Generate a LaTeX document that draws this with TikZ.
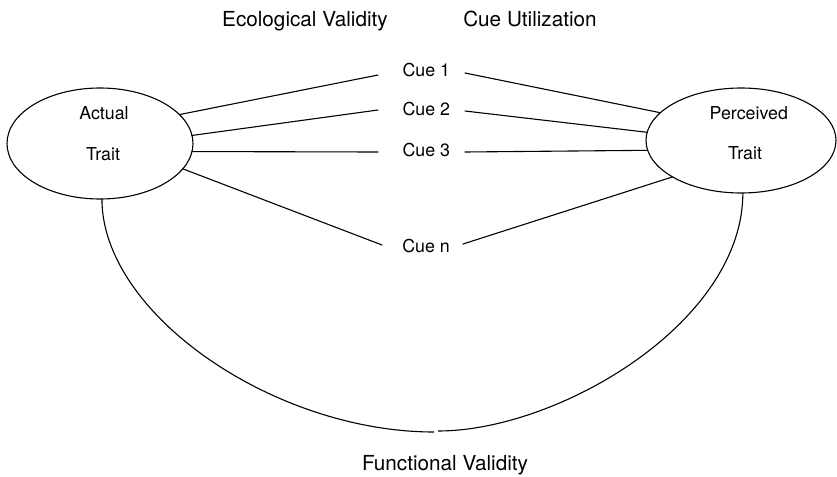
\documentclass[tikz,border=0pt]{standalone}
\usepackage{fontspec}
\setmainfont{TeX Gyre Heros}
\usetikzlibrary{shapes.geometric}
\begin{document}
\begin{tikzpicture}[x=1pt,y=-1pt,
  trait/.style={draw, ellipse, inner sep=0pt, outer sep=0pt, line width=1.1pt},
  small/.style={inner sep=0pt, anchor=base, font=\fontsize{17.8}{20}\selectfont},
  big/.style={inner sep=0pt, anchor=base, font=\fontsize{20.7}{24}\selectfont},
  conn/.style={line width=1.1pt, line cap=round}
]
\useasboundingbox (0,0) rectangle (837,476);

% ellipses
\node[trait, minimum width=186pt, minimum height=111pt] (L) at (100,143.5) {};
\node[trait, minimum width=190pt, minimum height=105pt] (R) at (741,140.5) {};

% ellipse texts
\node[small] (la) at (104,120) {Actual};
\node[small] (lt) at (103,160) {Trait};
\node[small] (ra) at (748.8,119) {Perceived};
\node[small] (rt) at (745,159) {Trait};

% cue labels
\node[small] (c1) at (426.3,77) {Cue 1};
\node[small] (c2) at (426.3,116) {Cue 2};
\node[small] (c3) at (426.3,156) {Cue 3};
\node[small] (cn) at (426,252) {Cue n};

% header / footer
\node[big] (ev) at (305,27) {Ecological Validity};
\node[big] (cu) at (530,27) {Cue Utilization};
\node[big] (fv) at (445,470) {Functional Validity};

% connector ends near cue labels
\coordinate (c1l) at (378,75);
\coordinate (c2l) at (378,110);
\coordinate (c3l) at (378,152);
\coordinate (cnl) at (382,245);
\coordinate (c1r) at (465,73);
\coordinate (c2r) at (465,111);
\coordinate (c3r) at (465,152);
\coordinate (cnr) at (463,244);

% ecological validity lines
\draw[conn] (L.20) -- (c1l);
\draw[conn] (L.5.8) -- (c2l);
\draw[conn] (L.-5.2) -- (c3l);
\draw[conn] (L.-17.7) -- (cnl);

% cue utilization lines
\draw[conn] (c1r) -- (R.161.9);
\draw[conn] (c2r) -- (R.175.3);
\draw[conn] (c3r) -- (R.186.9);
\draw[conn] (cnr) -- (R.208.5);

% functional validity arc
\coordinate (g1) at (434,432);
\coordinate (g2) at (438,431);
\draw[line width=1.1pt] (L.272) .. controls ++(0,115) and ++(-160,0) .. (g1);
\draw[line width=1.1pt] (g2) .. controls ++(120,0) and ++(0,130) .. (R.272);
\end{tikzpicture}
\end{document}
